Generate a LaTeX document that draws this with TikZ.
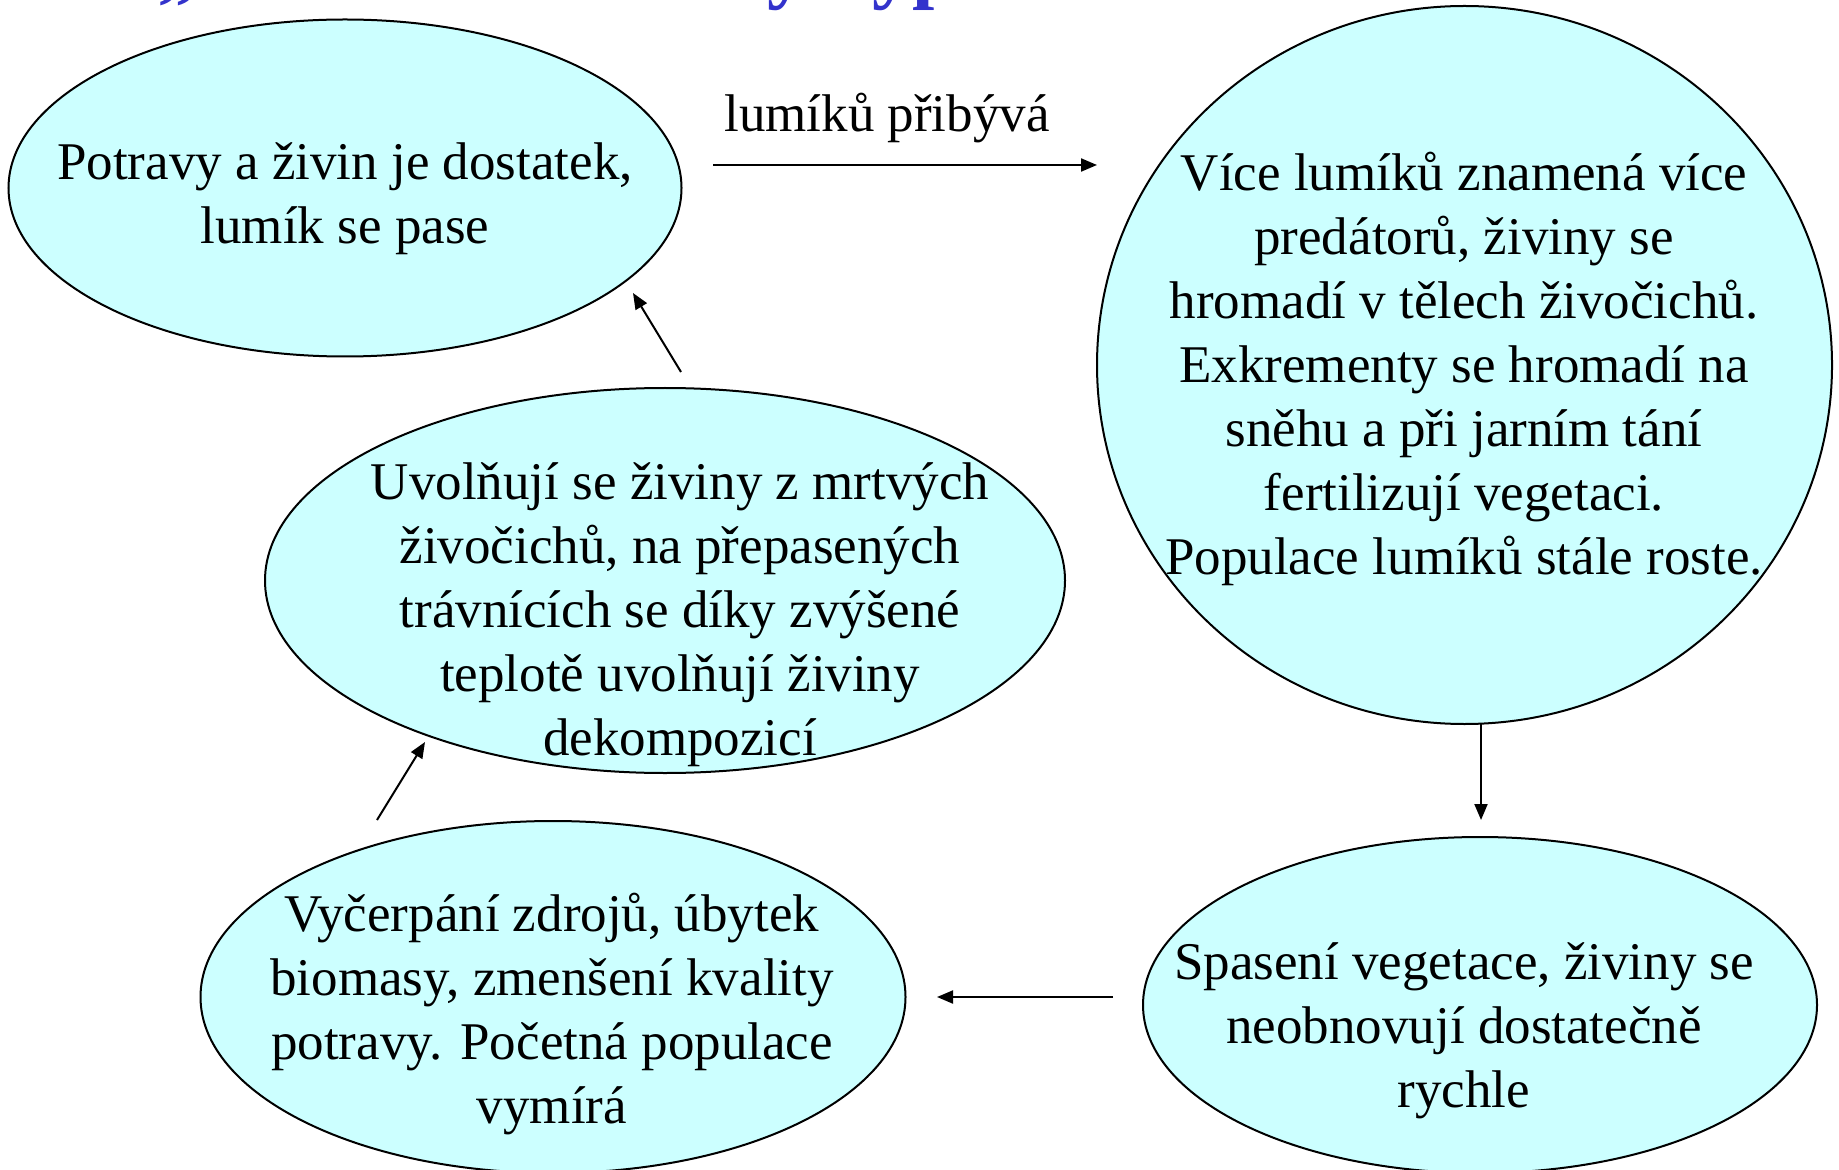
\documentclass[tikz,border=0pt]{standalone}
\usepackage{fontspec}
\setmainfont{Liberation Serif}
\usetikzlibrary{shapes.geometric,arrows.meta}
\definecolor{bubble}{HTML}{CCFFFF}
\definecolor{titleblue}{HTML}{3333CC}
\begin{document}
\begin{tikzpicture}[x=0.5pt,y=-0.5pt,
  bub/.style={ellipse,draw=black,fill=bubble,line width=1pt,inner sep=0pt},
  txt/.style={align=center,inner sep=0pt,font=\fontsize{26.5pt}{32pt}\selectfont},
  arr/.style={line width=1pt,-{Triangle[length=8pt,width=6.5pt]}}]
\clip (0,0) rectangle (1839,1170);
\fill[white] (0,0) rectangle (1839,1170);
% cut-off title
\node[anchor=base west,inner sep=0pt,text=titleblue,font=\fontsize{40pt}{48pt}\selectfont\bfseries] (title) at (158,-6) {„Nutrient recovery hypothesis“};
% ellipses
\node[bub,minimum width=336.5pt,minimum height=168.5pt] (e1) at (345,188) {};
\node[bub,minimum width=367.5pt,minimum height=359pt] (e2) at (1464.5,365) {};
\node[bub,minimum width=400pt,minimum height=192.5pt] (e3) at (665,580.5) {};
\node[bub,minimum width=337pt,minimum height=168pt] (e4) at (1480,1005) {};
\node[bub,minimum width=352.5pt,minimum height=176pt] (e5) at (553,997) {};
% texts
\node[txt] (t1) at (345,198.5) {Potravy a živin je dostatek,\\lumík se pase};
\node[txt] (t2) at (1464,369) {Více lumíků znamená více\\predátorů, živiny se\\hromadí v tělech živočichů.\\Exkrementy se hromadí na\\sněhu a při jarním tání\\fertilizují vegetaci.\\Populace lumíků stále roste.};
\node[txt] (t3) at (680,615) {Uvolňují se živiny z mrtvých\\živočichů, na přepasených\\trávnících se díky zvýšené\\teplotě uvolňují živiny\\dekompozicí};
\node[txt] (t4) at (1464,1031) {Spasení vegetace, živiny se\\neobnovují dostatečně\\rychle};
\node[txt] (t5) at (552,1014) {Vyčerpání zdrojů, úbytek\\biomasy, zmenšení kvality\\potravy. Početná populace\\vymírá};
% arrow end points
\coordinate (a1s) at (713,165);
\coordinate (a1e) at (1097,165);
\coordinate (a2s) at (1481,724);
\coordinate (a2e) at (1481,820);
\coordinate (a3s) at (1113,997);
\coordinate (a3e) at (937,997);
\coordinate (a4s) at (377,820);
\coordinate (a4e) at (425,742);
\coordinate (a5s) at (681,372);
\coordinate (a5e) at (633,293);
\draw[arr] (a1s) -- (a1e);
\node[txt] (lab) at (887,118) {lumíků přibývá};
\draw[arr] (a2s) -- (a2e);
\draw[arr] (a3s) -- (a3e);
\draw[arr] (a4s) -- (a4e);
\draw[arr] (a5s) -- (a5e);
\end{tikzpicture}
\end{document}
